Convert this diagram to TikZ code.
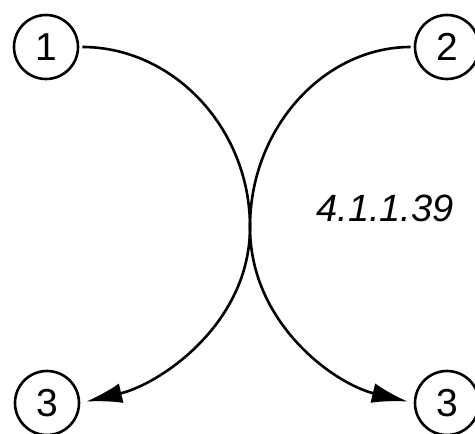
\documentclass[tikz,border=0pt]{standalone}
\usepackage{fontspec}
\setmainfont{Liberation Sans}
\usetikzlibrary{arrows.meta}
\begin{document}
\begin{tikzpicture}[x=1pt,y=1pt,
  num/.style={circle,draw,line width=2.6pt,minimum size=64pt,inner sep=0pt,font=\fontsize{39}{39}\selectfont},
  conn/.style={line width=2.6pt,shorten <=3pt,shorten >=6pt,-{Latex[length=36pt,width=20pt]}},
  lbl/.style={font=\fontsize{38}{38}\selectfont\itshape}]
\useasboundingbox (0,0) rectangle (475,434);
\node[num] (n1) at (46,387) {1};
\node[num] (n2) at (447,387) {2};
\node[num] (n3a) at (47,31) {3};
\node[num] (n3b) at (447,31) {3};
\node[lbl] (lab) at (385,226) {4.1.1.39};
\draw[conn] (n1.east) .. controls (173,387) and (250,306) .. (250,207) .. controls (250,110) and (160,50) .. (n3a.east);
\draw[conn] (n2.west) .. controls (324,387) and (250,306) .. (250,207) .. controls (250,110) and (335,50) .. (n3b.west);
\end{tikzpicture}
\end{document}
